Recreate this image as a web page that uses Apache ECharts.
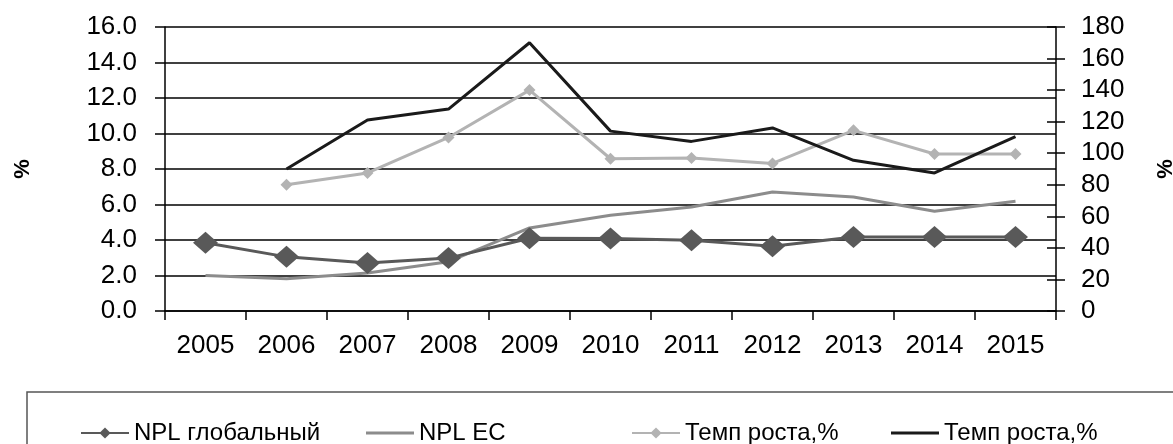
<!DOCTYPE html>
<html>
<head>
<meta charset="utf-8">
<script src="https://cdn.jsdelivr.net/npm/echarts@6/dist/echarts.min.js"></script>
<style>
  html, body { margin: 0; padding: 0; background: #fff; }
  #chart { width: 1173px; height: 444px; }
</style>
</head>
<body>
<div id="chart"></div>
<script>
// Years on the category axis
const years = ['2005', '2006', '2007', '2008', '2009', '2010', '2011', '2012', '2013', '2014', '2015'];

// Non-performing loans, % (left axis)
const nplGlobal = [3.85, 3.05, 2.7, 2.98, 4.1, 4.08, 3.98, 3.65, 4.17, 4.17, 4.17];
const nplEU = [2.0, 1.82, 2.14, 2.78, 4.68, 5.39, 5.86, 6.7, 6.42, 5.62, 6.18];

// Growth rates, % (right axis)
const growthGlobal = [null, 80, 87.5, 110, 140, 96.5, 97, 93.5, 114.5, 99.5, 99.5];
const growthEU = [null, 90, 121, 128, 170, 114, 107.5, 116, 95.5, 87.5, 110.5];

// Axis ranges and steps
const leftMax = 16, leftStep = 2;
const rightMax = 180, rightStep = 20;

const seriesNames = ['NPL глобальный', 'NPL ЕС', 'Темп роста,%', 'Темп роста,% '];

const font = 'Liberation Sans, Arial, sans-serif';
const chart = echarts.init(document.getElementById('chart'));

function legendAt(name, left, plainLine) {
  return {
    data: [plainLine ? { name: name, icon: 'rect' } : name],
    left: left,
    top: 421,
    padding: 0,
    itemWidth: 48,
    itemHeight: plainLine ? 3 : 14,
    itemGap: 5,
    selectedMode: false,
    textStyle: { fontFamily: font, fontSize: 24, color: '#000' }
  };
}

chart.setOption({
  animation: false,
  backgroundColor: '#fff',
  grid: { left: 165, right: 117, top: 27, height: 284, outerBoundsMode: 'none' },
  graphic: [{
    type: 'rect',
    shape: { x: 27, y: 392, width: 1200, height: 80 },
    style: { fill: 'none', stroke: '#555', lineWidth: 1.5 },
    silent: true
  }],
  legend: [
    legendAt(seriesNames[0], 80, false),
    legendAt(seriesNames[1], 366, true),
    legendAt(seriesNames[2], 631, false),
    legendAt(seriesNames[3], 891, true)
  ],
  xAxis: {
    type: 'category',
    data: years,
    boundaryGap: true,
    axisLine: { lineStyle: { color: '#000', width: 1.5 } },
    axisTick: { show: true, length: 9, lineStyle: { color: '#000', width: 1.5 } },
    axisLabel: { fontFamily: font, fontSize: 26, color: '#000', margin: 22 },
    splitLine: { show: false }
  },
  yAxis: [
    {
      type: 'value',
      min: 0, max: leftMax, interval: leftStep,
      position: 'left',
      name: '%',
      nameLocation: 'middle',
      nameGap: 131,
      nameRotate: 90,
      nameTextStyle: { fontFamily: font, fontSize: 22, fontWeight: 'bold', color: '#000' },
      axisLine: { show: true, lineStyle: { color: '#000', width: 1.5 } },
      axisTick: { show: true, length: 10, lineStyle: { color: '#000', width: 1.5 } },
      axisLabel: {
        fontFamily: font, fontSize: 26, color: '#000', margin: 28,
        formatter: v => v.toFixed(1)
      },
      splitLine: { show: true, lineStyle: { color: '#000', width: 1.5 } }
    },
    {
      type: 'value',
      min: 0, max: rightMax, interval: rightStep,
      position: 'right',
      name: '%',
      nameLocation: 'middle',
      nameGap: 99,
      nameRotate: 90,
      nameTextStyle: { fontFamily: font, fontSize: 22, fontWeight: 'bold', color: '#000' },
      axisLine: { show: true, lineStyle: { color: '#000', width: 1.5 } },
      axisTick: { show: true, length: 9, lineStyle: { color: '#000', width: 1.5 } },
      axisLabel: { fontFamily: font, fontSize: 26, color: '#000', margin: 25 },
      splitLine: { show: false }
    },
    {
      // inner half of the right-hand tick marks
      type: 'value',
      min: 0, max: rightMax, interval: rightStep,
      position: 'right',
      axisLine: { show: false },
      axisTick: { show: true, inside: true, length: 9, lineStyle: { color: '#000', width: 1.5 } },
      axisLabel: { show: false },
      splitLine: { show: false }
    }
  ],
  series: [
    {
      name: seriesNames[0],
      type: 'line',
      yAxisIndex: 0,
      data: nplGlobal,
      symbol: 'diamond',
      symbolSize: [25, 22],
      showAllSymbol: true,
      lineStyle: { color: '#595959', width: 3 },
      itemStyle: { color: '#595959' },
      z: 5
    },
    {
      name: seriesNames[1],
      type: 'line',
      yAxisIndex: 0,
      data: nplEU,
      symbol: 'none',
      lineStyle: { color: '#8c8c8c', width: 3 },
      itemStyle: { color: '#8c8c8c' },
      z: 4
    },
    {
      name: seriesNames[2],
      type: 'line',
      yAxisIndex: 1,
      data: growthGlobal,
      symbol: 'diamond',
      symbolSize: [12, 12],
      showAllSymbol: true,
      lineStyle: { color: '#b3b3b3', width: 3 },
      itemStyle: { color: '#b3b3b3' },
      z: 3
    },
    {
      name: seriesNames[3],
      type: 'line',
      yAxisIndex: 1,
      data: growthEU,
      symbol: 'none',
      lineStyle: { color: '#1a1a1a', width: 3 },
      itemStyle: { color: '#1a1a1a' },
      z: 3
    }
  ]
});
</script>
</body>
</html>
